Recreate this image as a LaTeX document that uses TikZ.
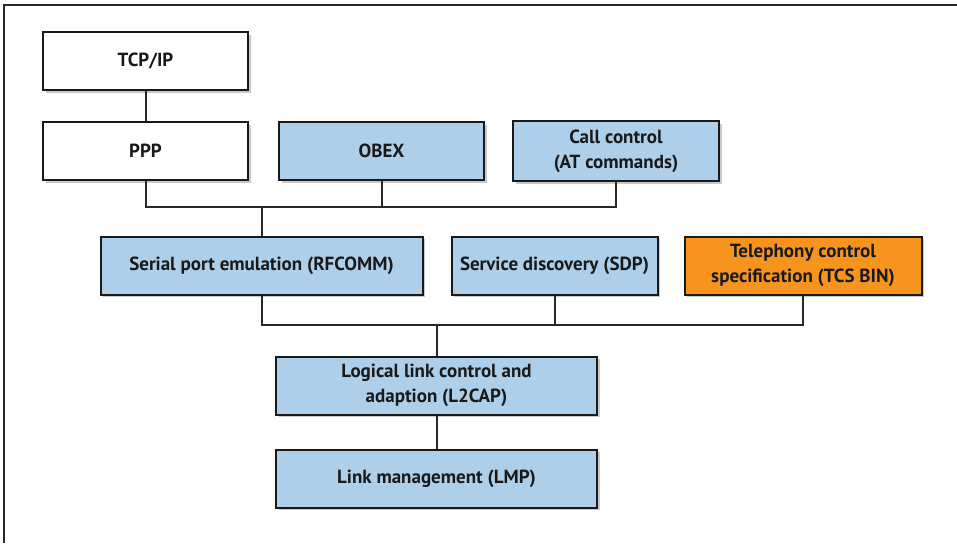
\documentclass[tikz,border=0pt]{standalone}
\usepackage{fontspec}
\setmainfont{PT Sans}
\usepackage{tikz}
\usetikzlibrary{positioning, shadows}

\definecolor{stackblue}{RGB}{174,207,233}
\definecolor{stackorange}{RGB}{247,148,30}
\definecolor{linegray}{RGB}{40,40,40}

\begin{document}
\begin{tikzpicture}[
  x=0.5pt, y=-0.5pt,
  layer/.style={draw=black!90, line width=1pt, minimum height=29pt, align=center,
                inner sep=1pt, font=\bfseries\fontsize{9.5}{12.5}\selectfont,
                text=black!90,
                drop shadow={shadow xshift=1.3pt, shadow yshift=-1.3pt,
                             opacity=.3, fill=black!70}},
  plain/.style={layer, fill=white},
  proto/.style={layer, fill=stackblue},
  special/.style={layer, fill=stackorange},
  wire/.style={draw=linegray, line width=1pt},
  node distance=14pt,
]
\useasboundingbox (0,0) rectangle (957,543);

% ---- Frame ----
\draw[linegray, line width=1pt] (957,5) -- (4,5) -- (4,543);

% ---- Upper row ----
\node[plain, minimum width=102.5pt] (tcp) at (145.5,61) {TCP/IP};
\node[plain, minimum width=102.5pt, below=15pt of tcp] (ppp) {PPP};
\node[proto, minimum width=102.5pt, right=14.5pt of ppp] (obex) {OBEX};
\node[proto, minimum width=103pt, minimum height=30pt, right=13.5pt of obex] (call) {Call control\\(AT commands)};

% ---- Middle row ----
\node[proto, minimum width=161pt] (rfcomm) at (261.5,265.5) {Serial port emulation (RFCOMM)};
\node[proto, minimum width=103pt, right=13.5pt of rfcomm] (sdp) {Service discovery (SDP)};
\node[special, minimum width=118.5pt, right=12.5pt of sdp] (tcs) {Telephony control\\specification (TCS BIN)};

% ---- Lower layers ----
\node[proto, minimum width=160.5pt] (l2cap) at (436.5,385.5) {Logical link control and\\adaption (L2CAP)};
\node[proto, minimum width=160.5pt, below=16.5pt of l2cap] (lmp) {Link management (LMP)};

% ---- Buses ----
\coordinate (bus1) at (262,207);
\coordinate (bus2) at (437,325);

\draw[wire] (tcp) -- (ppp);
\draw[wire] (ppp.south) |- (bus1) -| (call.south);
\draw[wire] (obex.south) -- (obex.south |- bus1);
\draw[wire] (bus1) -- (rfcomm.north -| bus1);

\draw[wire] (rfcomm.south -| bus1) |- (bus2) -| (tcs.south);
\draw[wire] (sdp.south) -- (sdp.south |- bus2);
\draw[wire] (bus2) -- (l2cap.north -| bus2);
\draw[wire] (l2cap.south -| bus2) -- (lmp.north -| bus2);

\end{tikzpicture}
\end{document}
